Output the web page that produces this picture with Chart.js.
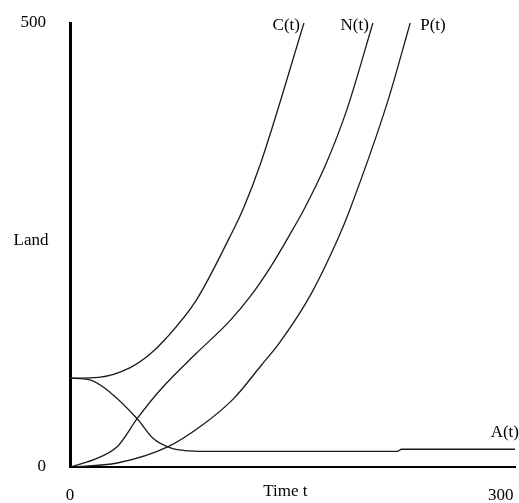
<!DOCTYPE html>
<html>
<head>
<meta charset="utf-8">
<script src="https://cdn.jsdelivr.net/npm/chart.js@4"></script>
<style>
  html, body { margin: 0; padding: 0; background: #fff; }
  #wrap { width: 519px; height: 503px; }
</style>
</head>
<body>
<div id="wrap"><canvas id="landChart"></canvas></div>
<script>
// values (time t, land)
const tC = [0, 20, 42, 55, 67, 88, 111, 121, 133, 163];
const valC = [100, 101, 112, 126, 145, 188, 258, 292, 343, 500];

const tN = [0, 16, 33, 47, 63, 88, 111, 126, 140, 155, 163, 178, 193, 211];
const valN = [0, 8, 23, 55, 87, 128, 164, 193, 226, 267, 290, 340, 403, 500];

const tP = [0, 33, 68, 92, 114, 133, 146, 168, 188, 195, 221, 237];
const valP = [0, 4.5, 22.6, 47, 77, 114, 140, 195, 262, 290, 410, 500];

const tA = [0, 14, 28, 47, 58, 70, 80, 95, 228, 231, 310];
const valA = [100, 98, 84, 54, 32, 21.5, 18.5, 17.6, 17.5, 20, 20];

const seriesNames = ['C(t)', 'N(t)', 'P(t)', 'A(t)'];
const xTicks = [0, 300];
const yTicks = [0, 500];

function pts(ts, vs) {
    return ts.map((t, i) => ({ x: t, y: vs[i] }));
}

const fontFam = '"Liberation Serif", "Times New Roman", serif';

// curve labels + axis names drawn as text
const textPlugin = {
    id: 'textLabels',
    afterDraw(chart) {
        const ctx = chart.ctx;
        const xs = chart.scales.x, ys = chart.scales.y;
        const area = chart.chartArea;
        ctx.save();
        ctx.fillStyle = '#000';
        ctx.font = '17px ' + fontFam;
        ctx.textBaseline = 'middle';

        // curve names next to the line ends
        const place = [
            { align: 'right', dx: -4, dy: 3 },
            { align: 'right', dx: -4, dy: 3 },
            { align: 'left', dx: 10, dy: 3 },
            { align: 'right', dx: 4, dy: -17 }
        ];
        chart.data.datasets.forEach((ds, i) => {
            const last = ds.data[ds.data.length - 1];
            const px = xs.getPixelForValue(last.x);
            const py = Math.max(ys.getPixelForValue(last.y), area.top);
            ctx.textAlign = place[i].align;
            ctx.fillText(seriesNames[i], px + place[i].dx, py + place[i].dy);
        });

        ctx.textAlign = 'center';
        ctx.fillText('Land', 31, (area.top + area.bottom) / 2 - 4);
        ctx.fillText('Time t', xs.getPixelForValue(150), 492);
        ctx.restore();
    }
};

const mkSet = (ts, vs) => ({
    data: pts(ts, vs),
    borderColor: '#1a1a1a',
    borderWidth: 1.3,
    pointRadius: 0,
    fill: false,
    cubicInterpolationMode: 'monotone'
});

new Chart(document.getElementById('landChart'), {
    type: 'line',
    data: {
        datasets: [
            mkSet(tC, valC),
            mkSet(tN, valN),
            mkSet(tP, valP),
            mkSet(tA, valA)
        ]
    },
    options: {
        responsive: true,
        maintainAspectRatio: false,
        animation: false,
        layout: { padding: { top: 23, right: 4, left: 0, bottom: 0 } },
        plugins: {
            legend: { display: false },
            tooltip: { enabled: false }
        },
        scales: {
            x: {
                type: 'linear',
                min: 0,
                max: 310,
                grid: { display: false },
                border: { display: true, color: '#000', width: 2 },
                afterBuildTicks: s => { s.ticks = xTicks.map(v => ({ value: v })); },
                afterFit: s => {
                    s.height = 36;
                    s.paddingLeft = 0;
                    s.paddingRight = 0;
                },
                ticks: {
                    color: '#000',
                    font: { family: fontFam, size: 17 },
                    padding: 10,
                    maxRotation: 0
                }
            },
            y: {
                min: 0,
                max: 500,
                grid: { display: false },
                border: { display: true, color: '#000', width: 3 },
                afterBuildTicks: s => { s.ticks = yTicks.map(v => ({ value: v })); },
                afterFit: s => {
                    s.width = 70;
                    s.paddingTop = 0;
                    s.paddingBottom = 0;
                },
                ticks: {
                    color: '#000',
                    font: { family: fontFam, size: 17 },
                    padding: 16
                }
            }
        }
    },
    plugins: [textPlugin]
});
</script>
</body>
</html>
